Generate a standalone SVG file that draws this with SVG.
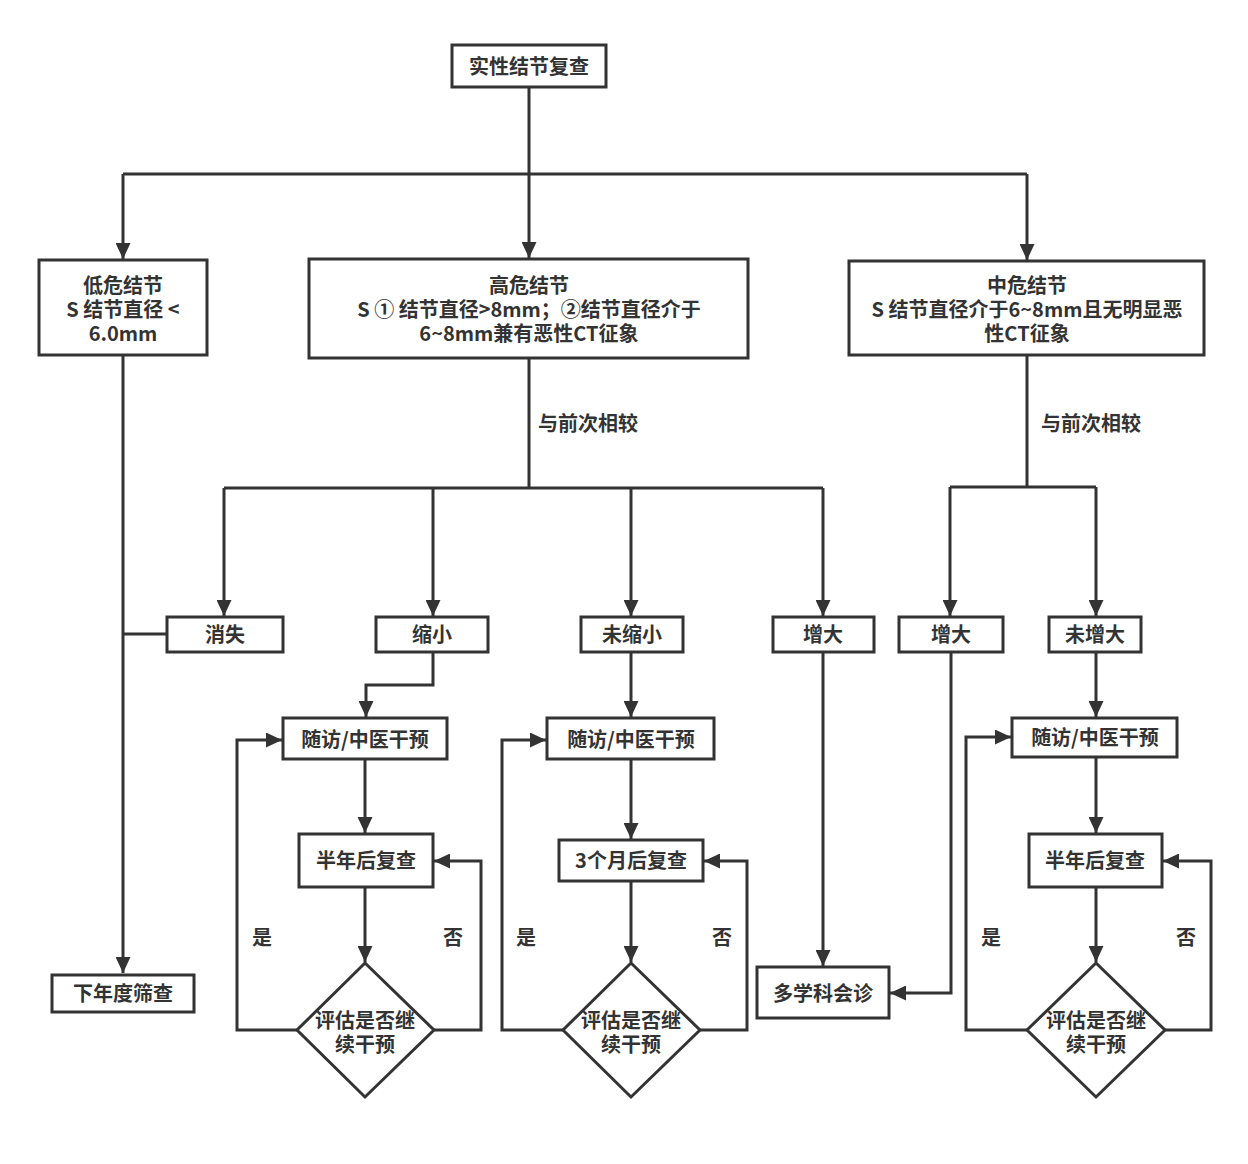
<svg xmlns="http://www.w3.org/2000/svg" width="1248" height="1164" viewBox="0 0 1248 1164">
<style>
.b{fill:#fff;stroke:#333;stroke-width:3}
.t{font-family:"Noto Sans CJK SC","Liberation Sans",sans-serif;font-weight:bold;font-size:20px;fill:#333;text-anchor:middle}
.c{fill:none;stroke:#333;stroke-width:3}
.a{marker-end:url(#ar)}
</style>
<defs>
<marker id="ar" markerUnits="userSpaceOnUse" markerWidth="17" markerHeight="15" refX="16" refY="7.5" orient="auto">
<path d="M0,0 L16,7.5 L0,15 z" fill="#333"/>
</marker>
</defs>
<rect width="1248" height="1164" fill="#fff"/>
<g id="connectors">
<path class="c" d="M529,87 V174 M123,174 H1027"/>
<path class="c a" d="M123,174 V259"/>
<path class="c a" d="M529,174 V258"/>
<path class="c a" d="M1027,174 V260"/>
<path class="c a" d="M123,355 V973"/>
<path class="c" d="M167,634 H123"/>
<path class="c" d="M529,358 V488 M224,488 H823"/>
<path class="c a" d="M224,488 V616"/>
<path class="c a" d="M433,488 V616"/>
<path class="c a" d="M631,488 V616"/>
<path class="c a" d="M823,488 V616"/>
<path class="c a" d="M433,652 V685 H366 V717"/>
<path class="c a" d="M365,759 V833"/>
<path class="c a" d="M365,887 V962"/>
<path class="c a" d="M297,1030 H237 V740 H282"/>
<path class="c a" d="M434,1030 H481 V861 H434"/>
<path class="c a" d="M631,652 V717"/>
<path class="c a" d="M631,759 V839"/>
<path class="c a" d="M631,881 V962"/>
<path class="c a" d="M563,1030 H502 V740 H546"/>
<path class="c a" d="M700,1030 H747 V861 H704"/>
<path class="c a" d="M823,652 V966"/>
<path class="c" d="M1027,355 V487 M950,487 H1096"/>
<path class="c a" d="M950,487 V616"/>
<path class="c a" d="M1096,487 V616"/>
<path class="c a" d="M951,652 V993 H890"/>
<path class="c a" d="M1096,652 V717"/>
<path class="c a" d="M1096,757 V833"/>
<path class="c a" d="M1096,887 V962"/>
<path class="c a" d="M1027,1030 H966 V737 H1011"/>
<path class="c a" d="M1165,1030 H1211 V861 H1163"/>
<text class="t" x="588" y="431">与前次相较</text>
<text class="t" x="1091" y="431">与前次相较</text>
<text class="t" x="262" y="945">是</text>
<text class="t" x="453" y="945">否</text>
<text class="t" x="526" y="945">是</text>
<text class="t" x="722" y="945">否</text>
<text class="t" x="991" y="945">是</text>
<text class="t" x="1186" y="945">否</text>
</g>
<g id="n_top"><rect class="b" x="452" y="45" width="154" height="42"/><text class="t" x="529" y="74">实性结节复查</text></g>
<g id="n_low"><rect class="b" x="39" y="260" width="168" height="95"/><text class="t" x="123" y="293">低危结节</text><text class="t" x="123" y="317">S 结节直径 &lt;</text><text class="t" x="123" y="341">6.0mm</text></g>
<g id="n_high"><rect class="b" x="309" y="259" width="439" height="99"/><text class="t" x="529" y="293">高危结节</text><text class="t" x="529" y="317">S ① 结节直径&gt;8mm；②结节直径介于</text><text class="t" x="529" y="341">6~8mm兼有恶性CT征象</text></g>
<g id="n_mid"><rect class="b" x="849" y="261" width="355" height="94"/><text class="t" x="1027" y="293">中危结节</text><text class="t" x="1027" y="317">S 结节直径介于6~8mm且无明显恶</text><text class="t" x="1027" y="341">性CT征象</text></g>
<g id="n_xs"><rect class="b" x="167" y="617" width="116" height="35"/><text class="t" x="225" y="642">消失</text></g>
<g id="n_sx"><rect class="b" x="376" y="617" width="112" height="35"/><text class="t" x="432" y="642">缩小</text></g>
<g id="n_wsx"><rect class="b" x="581" y="617" width="102" height="35"/><text class="t" x="632" y="642">未缩小</text></g>
<g id="n_zd1"><rect class="b" x="773" y="617" width="101" height="35"/><text class="t" x="823" y="642">增大</text></g>
<g id="n_zd2"><rect class="b" x="899" y="617" width="104" height="35"/><text class="t" x="951" y="642">增大</text></g>
<g id="n_wzd"><rect class="b" x="1049" y="617" width="92" height="35"/><text class="t" x="1095" y="642">未增大</text></g>
<g id="n_sf1"><rect class="b" x="283" y="718" width="164" height="41"/><text class="t" x="365" y="747">随访/中医干预</text></g>
<g id="n_sf2"><rect class="b" x="547" y="718" width="167" height="41"/><text class="t" x="631" y="747">随访/中医干预</text></g>
<g id="n_sf3"><rect class="b" x="1012" y="718" width="165" height="39"/><text class="t" x="1095" y="745">随访/中医干预</text></g>
<g id="n_bn1"><rect class="b" x="299" y="834" width="134" height="53"/><text class="t" x="366" y="868">半年后复查</text></g>
<g id="n_3m"><rect class="b" x="559" y="840" width="144" height="41"/><text class="t" x="631" y="868">3个月后复查</text></g>
<g id="n_bn3"><rect class="b" x="1029" y="834" width="133" height="53"/><text class="t" x="1095" y="868">半年后复查</text></g>
<g id="n_d1"><path class="b" d="M365,963 L434,1030 L365,1097 L297,1030 z"/><text class="t" x="365" y="1028">评估是否继</text><text class="t" x="365" y="1052">续干预</text></g>
<g id="n_d2"><path class="b" d="M631,963 L700,1030 L631,1097 L563,1030 z"/><text class="t" x="631" y="1028">评估是否继</text><text class="t" x="631" y="1052">续干预</text></g>
<g id="n_d3"><path class="b" d="M1096,963 L1165,1030 L1096,1097 L1027,1030 z"/><text class="t" x="1096" y="1028">评估是否继</text><text class="t" x="1096" y="1052">续干预</text></g>
<g id="n_dkx"><rect class="b" x="757" y="967" width="132" height="51"/><text class="t" x="823" y="1001">多学科会诊</text></g>
<g id="n_xnd"><rect class="b" x="52" y="975" width="142" height="37"/><text class="t" x="123" y="1001">下年度筛查</text></g>
</svg>
